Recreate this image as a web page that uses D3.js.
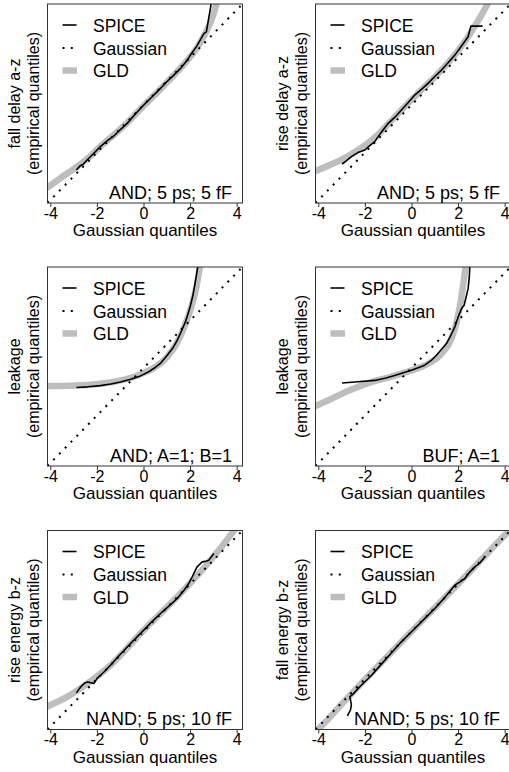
<!doctype html>
<html lang='en'>
<head>
<meta charset="utf-8">
<script src="https://d3js.org/d3.v7.min.js"></script>
<title>QQ plots</title>
<style>
body{margin:0;background:#fff;}
svg text{font-family:"Liberation Sans",Arial,sans-serif;fill:#000;}
</style>
</head>
<body>
<div id='chart'></div>
<script>
// x = Gaussian quantile, y = empirical quantile (standardised so the Gaussian ref is y = x)
const xTicks = [-4, -2, 0, 2, 4];
const qRange = [-4.12, 4.25];
const gaussLine = [[-4.12, -4.12], [4.25, 4.25]];

const fallDelaySpice = [[-2.88,-2.73],[-2.72,-2.55],[-2.6,-2.5],[-2.42,-2.31],[-2.15,-2.05],[-1.85,-1.75],[-1.55,-1.5],[-1.27,-1.3],[-0.98,-1.02],[-0.7,-0.77],[-0.35,-0.38],[0.01,0.0],[0.35,0.33],[0.73,0.7],[1.0,0.98],[1.3,1.26],[1.6,1.55],[1.88,1.89],[2.05,2.15],[2.3,2.5],[2.59,3.0],[2.7,3.08],[2.93,4.4]];
const fallDelayGld = [[-4.3,-3.58],[-4.09,-3.45],[-3.56,-3.07],[-2.88,-2.61],[-2.27,-2.14],[-1.85,-1.74],[-1.29,-1.27],[-0.69,-0.74],[0,-0.04],[0.73,0.67],[1.29,1.24],[1.89,1.89],[2.32,2.44],[2.66,3.03],[2.92,3.58],[3.13,4.25],[3.2,4.5]];

const riseDelaySpice = [[-2.98,-2.48],[-2.8,-2.35],[-2.58,-2.17],[-2.3,-2.0],[-2.0,-1.89],[-1.8,-1.72],[-1.58,-1.54],[-1.3,-1.15],[-1.0,-0.77],[-0.7,-0.5],[-0.43,-0.21],[-0.15,0.1],[0.14,0.42],[0.45,0.68],[0.71,0.91],[1.0,1.2],[1.29,1.47],[1.55,1.76],[1.86,2.1],[2.1,2.42],[2.43,2.87],[2.55,3.32],[3.05,3.32]];
const riseDelayGld = [[-4.3,-2.85],[-4.12,-2.78],[-3.5,-2.52],[-3.0,-2.3],[-2.5,-2.02],[-2.0,-1.7],[-1.5,-1.3],[-1.0,-0.8],[-0.5,-0.28],[0,0.22],[0.5,0.7],[1.0,1.18],[1.5,1.7],[2.0,2.28],[2.5,2.98],[3.0,3.78],[3.4,4.5]];

const leakAndSpice = [[-2.88,-0.82],[-2.4,-0.79],[-1.85,-0.74],[-1.4,-0.67],[-0.99,-0.59],[-0.55,-0.47],[-0.13,-0.33],[0.2,-0.17],[0.44,-0.02],[0.75,0.22],[1.02,0.54],[1.25,0.83],[1.45,1.17],[1.65,1.6],[1.8,1.94],[1.92,2.3],[2.02,2.64],[2.12,3.05],[2.2,3.48],[2.28,3.95],[2.35,4.4]];
const leakAndGld = [[-4.3,-0.76],[-4.09,-0.755],[-3.5,-0.75],[-2.88,-0.73],[-2.3,-0.7],[-1.85,-0.66],[-1.4,-0.6],[-0.99,-0.52],[-0.55,-0.41],[-0.13,-0.26],[0.44,0.0],[1.02,0.47],[1.45,1.08],[1.8,1.85],[2.06,2.6],[2.27,3.4],[2.42,4.25],[2.5,4.7]];

const leakBufSpice = [[-2.98,-0.63],[-2.43,-0.59],[-1.58,-0.52],[-1.1,-0.42],[-0.72,-0.31],[-0.35,-0.2],[0,-0.09],[0.57,0.12],[0.85,0.32],[1.07,0.54],[1.3,0.8],[1.5,1.03],[1.7,1.4],[1.86,1.73],[2.03,2.22],[2.15,2.5],[2.26,2.64],[2.36,3.05],[2.43,3.34],[2.48,3.8],[2.51,4.4]];
const leakBufGld = [[-4.3,-1.68],[-4.12,-1.6],[-3.43,-1.29],[-2.72,-0.96],[-2.2,-0.76],[-1.86,-0.64],[-1.4,-0.5],[-1.0,-0.4],[-0.5,-0.26],[0,-0.1],[0.71,0.18],[1.29,0.6],[1.72,1.25],[1.93,1.9],[2.07,2.55],[2.21,3.45],[2.32,4.25],[2.36,4.6]];

const riseEnergySpice = [[-2.88,-2.58],[-2.75,-2.4],[-2.63,-2.26],[-2.5,-2.15],[-2.39,-2.12],[-2.25,-2.15],[-2.13,-2.19],[-1.99,-1.97],[-1.7,-1.7],[-1.42,-1.42],[-1.05,-1.02],[-0.7,-0.65],[-0.35,-0.3],[0.01,0.06],[0.37,0.42],[0.73,0.76],[1.1,1.08],[1.45,1.39],[1.75,1.75],[1.94,2.02],[2.09,2.3],[2.2,2.52],[2.3,2.72],[2.52,2.93],[2.65,2.95],[2.8,3.0],[3.02,3.28]];
const riseEnergyGld = [[-4.3,-3.25],[-4.09,-3.14],[-3.28,-2.75],[-2.42,-2.19],[-1.42,-1.42],[0.01,0.06],[1.45,1.46],[2.45,2.51],[3.3,3.5],[3.87,4.23],[4.0,4.4]];

const fallEnergySpice = [[-2.75,-3.55],[-2.62,-3.3],[-2.58,-3.1],[-2.62,-2.85],[-2.65,-2.75],[-2.5,-2.62],[-2.2,-2.3],[-1.72,-1.85],[-1.3,-1.38],[-1.0,-1.05],[-0.5,-0.5],[0,-0.01],[0.5,0.48],[1.0,0.97],[1.4,1.4],[1.86,1.95],[2.1,2.1],[2.29,2.23],[2.5,2.5],[2.72,2.72],[2.95,2.9],[3.15,3.14]];
const fallEnergyGld = [[-4.3,-4.35],[-4.0,-4.1],[-3.0,-3.06],[-2.0,-2.02],[0,0],[2.0,2.0],[3.0,3.03],[4.0,4.05],[4.4,4.45]];

const yLabels = ['fall delay a-z','rise delay a-z','leakage','leakage','rise energy b-z','fall energy b-z'];
const notes = ['AND; 5 ps; 5 fF','AND; 5 ps; 5 fF','AND; A=1; B=1','BUF; A=1','NAND; 5 ps; 10 fF','NAND; 5 ps; 10 fF'];
const legendNames = ['SPICE','Gaussian','GLD'];

const spiceSets = [fallDelaySpice, riseDelaySpice, leakAndSpice, leakBufSpice, riseEnergySpice, fallEnergySpice];
const gldSets = [fallDelayGld, riseDelayGld, leakAndGld, leakBufGld, riseEnergyGld, fallEnergyGld];

const W = 509, H = 772;
const colX = [47.5, 315.5];
const rowY = [4, 267, 530.5];
const boxW = 195, boxH = 199;
const gray = '#bebebe';

const svg = d3.select('#chart').append('svg')
  .attr('width', W).attr('height', H);

yLabels.forEach((lab, i) => {
  const left = colX[i % 2], top = rowY[Math.floor(i / 2)];
  const x = d3.scaleLinear().domain(qRange).range([left, left + boxW]);
  const y = d3.scaleLinear().domain(qRange).range([top + boxH, top]);
  const line = d3.line().x(d => x(d[0])).y(d => y(d[1]));

  const g = svg.append('g');
  svg.append('clipPath').attr('id', 'clip' + i)
    .append('rect').attr('x', left).attr('y', top).attr('width', boxW).attr('height', boxH);

  const plot = g.append('g').attr('clip-path', 'url(#clip' + i + ')');
  plot.append('path').datum(gldSets[i])
    .attr('d', line.curve(d3.curveMonotoneX))
    .attr('fill', 'none').attr('stroke', gray).attr('stroke-width', 6.5);
  plot.append('path').datum(gaussLine)
    .attr('d', line.curve(d3.curveLinear))
    .attr('fill', 'none').attr('stroke', '#000').attr('stroke-width', 2)
    .attr('stroke-dasharray', '2 6.3');
  plot.append('path').datum(spiceSets[i])
    .attr('d', line.curve(d3.curveLinear))
    .attr('fill', 'none').attr('stroke', '#000').attr('stroke-width', 1.6)
    .attr('stroke-linejoin', 'round');

  g.append('rect').attr('x', left).attr('y', top).attr('width', boxW).attr('height', boxH)
    .attr('fill', 'none').attr('stroke', '#333').attr('stroke-width', 1);

  const axis = g.append('g').attr('transform', 'translate(0,' + (top + boxH) + ')')
    .call(d3.axisBottom(x).tickValues(xTicks).tickSize(4).tickPadding(0.6).tickFormat(d => String(d)));
  axis.select('.domain').remove();
  axis.selectAll('line').attr('stroke', '#333');
  axis.selectAll('text').attr('font-size', 16).attr('font-family', '"Liberation Sans",Arial,sans-serif');

  g.append('text').attr('x', left + boxW / 2).attr('y', top + boxH + 33)
    .attr('text-anchor', 'middle').attr('font-size', 17).text('Gaussian quantiles');

  const cy = top + boxH / 2;
  g.append('text').attr('transform', 'translate(' + (left - 28) + ',' + cy + ') rotate(-90)')
    .attr('text-anchor', 'middle').attr('font-size', 16).text(lab);
  g.append('text').attr('transform', 'translate(' + (left - 8.5) + ',' + cy + ') rotate(-90)')
    .attr('text-anchor', 'middle').attr('font-size', 16).text('(empirical quantiles)');

  g.append('text').attr('x', left + boxW - 10.5).attr('y', top + boxH - 4.5)
    .attr('text-anchor', 'end').attr('font-size', 18).text(notes[i]);

  // legend
  const leg = g.append('g').attr('transform', 'translate(' + left + ',' + top + ')');
  const rowsY = [21, 44, 66.5];
  leg.append('line').attr('x1', 15).attr('x2', 29).attr('y1', rowsY[0]).attr('y2', rowsY[0])
    .attr('stroke', '#000').attr('stroke-width', 1.6);
  leg.append('line').attr('x1', 15).attr('x2', 29).attr('y1', rowsY[1]).attr('y2', rowsY[1])
    .attr('stroke', '#000').attr('stroke-width', 2).attr('stroke-dasharray', '2 6.3');
  leg.append('line').attr('x1', 15).attr('x2', 29.5).attr('y1', rowsY[2]).attr('y2', rowsY[2])
    .attr('stroke', gray).attr('stroke-width', 6.5);
  legendNames.forEach((n, k) => {
    leg.append('text').attr('x', 45.5).attr('y', rowsY[k] + 6.5).attr('font-size', 17.5).text(n);
  });
});
</script>
</body>
</html>
